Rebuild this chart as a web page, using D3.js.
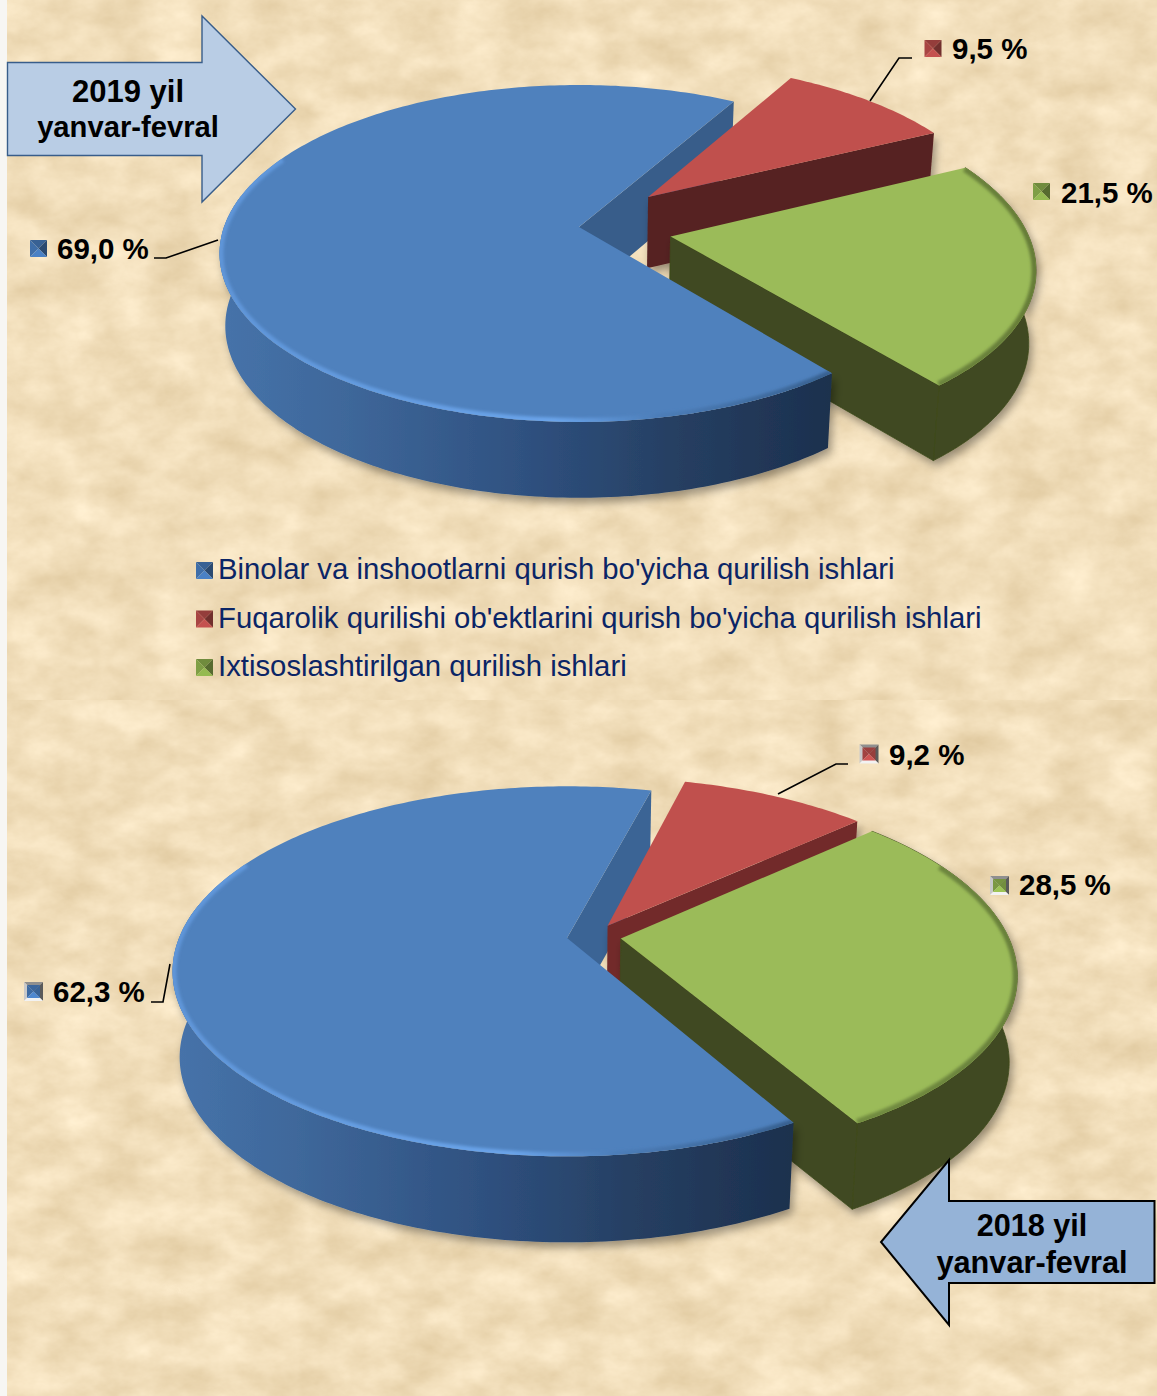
<!DOCTYPE html>
<html><head><meta charset="utf-8">
<style>html,body{margin:0;padding:0;background:#fff}svg{display:block}text{font-family:"Liberation Sans",Arial,sans-serif}</style>
<script src="https://cdn.jsdelivr.net/npm/d3@7/dist/d3.min.js"></script>
</head><body><div id="c"></div>
<script>
// ---- data ----
const categories = ["Binolar va inshootlarni qurish bo'yicha qurilish ishlari",
  "Fuqarolik qurilishi ob'ektlarini qurish bo'yicha qurilish ishlari",
  "Ixtisoslashtirilgan qurilish ishlari"];
const values2019 = [69.0, 9.5, 21.5];
const values2018 = [62.3, 9.2, 28.5];
const title2019 = ["2019 yil", "yanvar-fevral"];
const title2018 = ["2018 yil", "yanvar-fevral"];
// ---- styles ----
const topColors = ["#4f81bd", "#c0504d", "#9bbb59"];
const markerBase = ["#3f6ea8", "#a84543", "#7f9e45"];

const W = 1157, H = 1396;
const svg = d3.select("#c").append("svg").attr("width", W).attr("height", H);
const defs = svg.append("defs");

function paper(id, seed) {
  const f = defs.append("filter").attr("id", id).attr("x", 0).attr("y", 0).attr("width", 1).attr("height", 1)
    .attr("color-interpolation-filters", "sRGB");
  f.append("feTurbulence").attr("type", "fractalNoise").attr("baseFrequency", "0.02 0.03").attr("numOctaves", 5).attr("seed", seed);
  f.append("feColorMatrix").attr("type", "matrix").attr("values",
    "0.14 0 0 0 0.875  0.17 0 0 0 0.785  0.22 0 0 0 0.62  0 0 0 0 1");
}
paper("p1", 4); paper("p2", 11);
const sh = defs.append("filter").attr("id", "shadow").attr("x", "-10%").attr("y", "-10%").attr("width", "125%").attr("height", "125%");
sh.append("feDropShadow").attr("dx", 3).attr("dy", 5).attr("stdDeviation", 4).attr("flood-color", "#000").attr("flood-opacity", 0.36);
defs.append("filter").attr("id", "soft").append("feGaussianBlur").attr("stdDeviation", 1.8);

svg.append("rect").attr("width", W).attr("height", H).attr("fill", "#f7f6f3");
svg.append("rect").attr("x", 7).attr("width", W - 7).attr("height", 700).attr("filter", "url(#p1)");
svg.append("rect").attr("x", 7).attr("y", 700).attr("width", W - 7).attr("height", H - 700).attr("filter", "url(#p2)");

const line = d3.line();
const closed = pts => line(pts) + "Z";

function pie3d(cfg, values) {
  const tau = 2 * Math.PI;
  const st = cfg.start * Math.PI / 180;
  const arcs = d3.pie().sort(null).startAngle(st).endAngle(st + tau)(values);
  const xS = d3.scaleLinear().domain([-1, 1]).range([cfg.cx - cfg.a, cfg.cx + cfg.a]);
  const yS = d3.scaleLinear().domain([-1, 1]).range([cfg.cy - cfg.b, cfg.cy + cfg.b]);
  const proj = (mx, my, z) => {
    const w = 1 - cfg.p * my;
    const sx = 1 - cfg.shrink * z;
    const sy = 1 + cfg.grow * z;
    return [xS(sx * mx / w), yS(sy * my / w) + cfg.depth * z];
  };
  const dir = a => [Math.sin(a), -Math.cos(a)];
  const mid = d => (d.startAngle + d.endAngle) / 2;
  const base = dir(mid(arcs[0]));
  const slices = arcs.map((d, i) => {
    const m = dir(mid(d));
    const e = cfg.explode[i];
    const e0 = cfg.explode[0];
    const ox = e * m[0] - e0 * base[0], oy = e * m[1] - e0 * base[1];
    const n = Math.max(8, Math.ceil((d.endAngle - d.startAngle) * 60));
    const rim = d3.range(n + 1).map(k => {
      const a = d.startAngle + (d.endAngle - d.startAngle) * k / n, v = dir(a);
      return [ox + v[0], oy + v[1]];
    });
    return {ox, oy, rim, i};
  });
  const g = svg.append("g");
  const grad = (id, x1, x2, stops) => {
    const l = defs.append("linearGradient").attr("id", id).attr("gradientUnits", "userSpaceOnUse")
      .attr("x1", x1).attr("x2", x2).attr("y1", 0).attr("y2", 0);
    stops.forEach(s => l.append("stop").attr("offset", s[0]).attr("stop-color", s[1]));
    return `url(#${id})`;
  };
  const wallFill = grad(cfg.id + "wb", cfg.cx - cfg.a * 1.02, cfg.wallEnd, [[0, "#4673aa"], [0.2, "#3f689b"], [0.5, "#2f5180"], [0.75, "#263f62"], [1, "#1c304e"]]);
  const rimBlue = grad(cfg.id + "rb", cfg.cx - cfg.a * 1.02, cfg.wallEnd, [[0, "#5f95d8"], [0.55, "#6aa4ea"], [0.72, "#4c7db8"], [1, "#37608f"]]);
  const rimGreen = grad(cfg.id + "rg", cfg.cx, cfg.cx + cfg.a * 1.3, [[0, "#83a04c"], [1, "#657c38"]]);

  const front = s => s.rim.filter(q => q[1] > cfg.frontLimit);
  const wallOf = pts => closed(pts.map(q => proj(q[0], q[1], 0)).concat(pts.slice().reverse().map(q => proj(q[0], q[1], 1))));
  const radial = (s, q) => closed([proj(s.ox, s.oy, 0), proj(q[0], q[1], 0), proj(q[0], q[1], 1), proj(s.ox, s.oy, 1)]);
  const topFace = s => closed([proj(s.ox, s.oy, 0)].concat(s.rim.map(q => proj(q[0], q[1], 0))));

  function drawTop(s, rimStroke, w) {
    g.append("path").attr("d", topFace(s)).attr("fill", topColors[s.i]);
    if (rimStroke) {
      const cid = cfg.id + "clip" + s.i;
      defs.append("clipPath").attr("id", cid).append("path").attr("d", topFace(s));
      g.append("g").attr("clip-path", `url(#${cid})`).append("path")
        .attr("d", line(s.rim.filter(q => q[1] > -0.45).map(q => proj(q[0], q[1], 0))))
        .attr("fill", "none").attr("stroke", rimStroke).attr("stroke-width", w).attr("filter", "url(#soft)");
    }
  }
  const last = s => s.rim[s.rim.length - 1];
  const [blue, red, green] = slices;
  // blue: far cut face, behind the red wedge
  g.append("path").attr("d", radial(blue, last(blue))).attr("fill", cfg.blueCut);
  // red wedge
  const sg = g.append("g").attr("filter", "url(#shadow)");
  sg.append("path").attr("d", radial(red, last(red))).attr("fill", cfg.redWall);
  drawTop(red);
  // green wedge
  const gg = g.append("g").attr("filter", "url(#shadow)");
  gg.append("path").attr("d", wallOf(green.rim) + radial(green, last(green))).attr("fill", "#3f4a20")
    .attr("fill-rule", "nonzero").attr("stroke", "#3f4a20").attr("stroke-width", 0.8);
  drawTop(green, rimGreen, 9);
  // blue main body: only the part of the rim that faces the viewer has a wall
  const bg = g.append("g").attr("filter", "url(#shadow)");
  bg.append("path").attr("d", wallOf(front(blue))).attr("fill", wallFill);
  drawTop(blue, rimBlue, 8);
}

pie3d({id: "a", start: 141.3, cx: 579, cy: 227, a: 355, b: 164.3, p: 0.157, depth: 72, shrink: 0.016, grow: 0.02,
  explode: [0, 0.275, 0.262], frontLimit: -0.2, wallEnd: 830, blueCut: "#385d8a", redWall: "#572121"}, values2019);
pie3d({id: "b", start: 150.5, cx: 567, cy: 938, a: 388, b: 179, p: 0.18, depth: 86, shrink: 0.018, grow: 0,
  explode: [0.07, 0.07, 0.07], frontLimit: -0.2, wallEnd: 790, blueCut: "#3b6495", redWall: "#722c2c"}, values2018);

// ---- arrows ----
function arrow(pts, fill, stroke, sw) {
  svg.append("path").attr("d", closed(pts)).attr("fill", fill).attr("stroke", stroke).attr("stroke-width", sw);
}
arrow([[7.5, 62.5], [202, 62.5], [202, 16], [295.5, 109], [202, 202], [202, 155.5], [7.5, 155.5]], "#b9cde5", "#385d8a", 1.4);
arrow([[1154.5, 1201], [949, 1201], [949, 1160], [881, 1242], [949, 1325], [949, 1283], [1154.5, 1283]], "#95b3d7", "#000", 2);
function textLines(lines, x, ys, sizes) {
  lines.forEach((t, i) => svg.append("text").attr("x", x).attr("y", ys[i]).attr("text-anchor", "middle")
    .attr("font-weight", "bold").attr("font-size", sizes[i]).attr("fill", "#000").text(t));
}
textLines(title2019, 128, [102, 137], [31, 29.2]);
textLines(title2018, 1032, [1236, 1273], [30.6, 30.7]);

// ---- markers ----
function marker(x, y, s, c, framed) {
  const col = d3.color(c);
  const facets = (x0, y0, sz, t, l, r, b) => {
    const cx = x0 + sz / 2, cy = y0 + sz / 2;
    [[[x0, y0], [x0 + sz, y0], t], [[x0, y0], [x0, y0 + sz], l], [[x0 + sz, y0], [x0 + sz, y0 + sz], r], [[x0, y0 + sz], [x0 + sz, y0 + sz], b]]
      .forEach(f => svg.append("path").attr("d", closed([f[0], f[1], [cx, cy]])).attr("fill", f[2]));
  };
  if (framed) {
    facets(x, y, s, "#8f8f8f", "#c9c9c9", "#5a5a5a", "#f2f2f2");
    facets(x + 3, y + 3, s - 6, col.darker(0.2), col.darker(0.1), col.darker(0.3), col.brighter(0.6));
  } else {
    facets(x, y, s, col.darker(0.35), col, col.darker(1.1), col.brighter(0.45));
  }
}
function pctLabel(v, x, y) {
  svg.append("text").attr("x", x).attr("y", y).attr("font-weight", "bold").attr("font-size", 29.5).attr("fill", "#000")
    .text(d3.format(".1f")(v).replace(".", ",") + " %");
}
function leader(pts) {
  svg.append("path").attr("d", line(pts)).attr("fill", "none").attr("stroke", "#000").attr("stroke-width", 1.6);
}
// 2019 labels
marker(30, 240, 17, markerBase[0]); pctLabel(values2019[0], 57, 259);
marker(924.5, 40, 17, markerBase[1]); pctLabel(values2019[1], 952, 59);
marker(1033, 183, 17, markerBase[2]); pctLabel(values2019[2], 1061, 203);
leader([[154, 258], [166, 258], [218, 240]]);
leader([[870, 101], [899, 58], [912, 58]]);
// 2018 labels
marker(24, 982, 19, markerBase[0], true); pctLabel(values2018[0], 53, 1002);
marker(859.5, 744.5, 19, markerBase[1], true); pctLabel(values2018[1], 889, 765);
marker(990, 876, 19, markerBase[2], true); pctLabel(values2018[2], 1019, 895);
leader([[151, 1002], [163, 1002], [170, 964]]);
leader([[778, 794], [836, 764], [848, 764]]);

// ---- legend ----
const legendY = d3.scalePoint().domain(categories).range([579, 676]);
categories.forEach((c, i) => {
  marker(196, legendY(c) - 17, 17, markerBase[i]);
  svg.append("text").attr("x", 218).attr("y", legendY(c)).attr("font-size", 29.3).attr("fill", "#0b2566").text(c);
});
</script></body></html>
